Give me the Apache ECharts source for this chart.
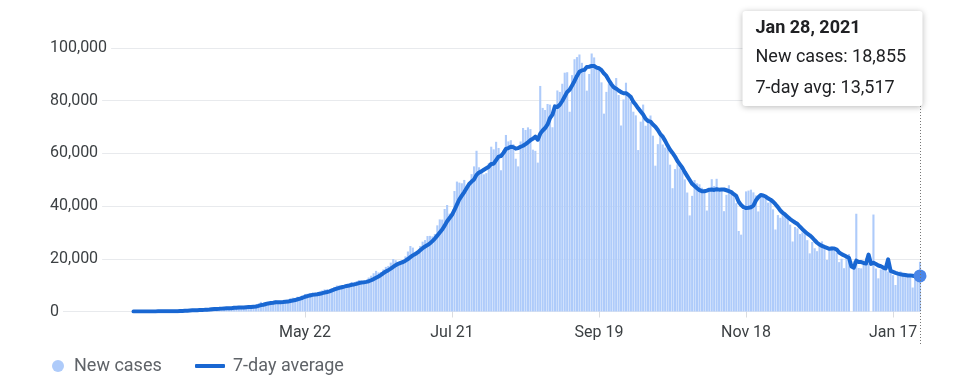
<!DOCTYPE html>
<html><head><meta charset="utf-8">
<script src="https://cdn.jsdelivr.net/npm/echarts@6/dist/echarts.min.js"></script>
<style>html,body{margin:0;padding:0;background:#fff}#c{width:959px;height:386px}</style>
</head><body><div id="c"></div>
<script>
// First day of the series: 13 Mar 2020
const startYear = 2020, startMonth = 2, startDay = 13;
const xTickLabels = ['May 22', 'Jul 21', 'Sep 19', 'Nov 18', 'Jan 17'];
const yMax = 100000, yStep = 20000;
const seriesNames = ['New cases', '7-day average'];

const newCases = [
  // Mar
  14, 8, 10, 20, 11, 23, 36, 53, 68, 89, 69, 103, 37, 121, 70, 160, 100, 227, 146,
  // Apr
  437, 235, 478, 525, 505, 704, 508, 485, 591, 896, 768, 918, 905, 1463, 1118, 826, 1076, 1334, 1553, 1336, 1383, 1409, 1684, 1429, 1990, 1396, 1543, 1902, 1705, 1801,
  // May
  2396, 2564, 2952, 3656, 2958, 3561, 3390, 3320, 3277, 4213, 3604, 3525, 3722, 3967, 3970, 4987, 5242, 4970, 5611, 5609, 6088, 6654, 6767, 6977, 6535, 6387, 6566, 7466, 7964, 8380, 8392,
  // Jun
  8171, 8909, 9304, 9851, 9887, 9971, 9983, 9987, 9985, 11156, 10956, 11458, 11929, 11502, 10667, 10974, 12881, 13586, 14516, 15413, 14821, 14933, 15968, 16922, 17296, 18552, 19906, 19459, 18522, 18653,
  // Jul
  19148, 20903, 22771, 24850, 24248, 22252, 22752, 24879, 26506, 27114, 28637, 28701, 28498, 29429, 32695, 34956, 34884, 38902, 40425, 37148, 37724, 45720, 49310, 48916, 48661, 49931, 47703, 48513, 52123, 55079, 61000,
  // Aug
  54736, 52972, 52050, 52509, 56282, 62538, 61537, 64399, 62064, 53601, 60963, 66999, 64553, 65002, 63490, 57981, 55079, 64531, 69652, 68898, 69878, 69239, 61408, 60975, 56500, 85600, 77266, 76472, 78761, 78512, 69921,
  // Sep
  78357, 83883, 83341, 86432, 90632, 90802, 75809, 89706, 95735, 96551, 97570, 94372, 92071, 83809, 90123, 97894, 96424, 93337, 92605, 86961, 75083, 83347, 86508, 86052, 85362, 88600, 82170, 70589, 80472, 86821,
  // Oct
  81484, 79476, 75829, 74442, 61267, 72049, 78524, 70496, 73272, 74383, 66732, 55342, 63509, 67708, 63371, 62212, 61871, 55722, 46790, 54044, 55839, 54366, 53370, 50129, 45149, 36469, 43893, 49881, 48648, 48268, 46964,
  // Nov
  45231, 38310, 46253, 50209, 47638, 50357, 45674, 45903, 38073, 44281, 47905, 44879, 44878, 41100, 30548, 29164, 38617, 45576, 45882, 46232, 45209, 44059, 37975, 44376, 44489, 43082, 41322, 41810, 38772, 31118,
  // Dec
  36604, 35551, 36595, 36652, 36011, 32981, 26567, 32080, 31522, 29398, 30006, 30254, 27071, 22065, 26382, 24010, 22890, 25152, 26624, 24337, 19556, 23950, 24712, 23068, 22272, 18732, 20021, 16432, 20550, 21822, 0,
  // Jan
  19078, 37100, 16505, 16375, 18088, 20346, 18139, 0, 36800, 16311, 12584, 15968, 16946, 15590, 15158, 15144, 13788, 10064, 13823, 15223, 14545, 14256, 13849, 13203, 9102, 12689, 11666, 18855
];

const avg7 = [
  // Mar
  8, 9, 10, 12, 12, 14, 17, 23, 32, 43, 50, 63, 65, 77, 80, 93, 94, 117, 123,
  // Apr
  180, 196, 255, 307, 365, 433, 485, 491, 542, 602, 637, 696, 724, 861, 951, 985, 1011, 1091, 1182, 1244, 1232, 1274, 1396, 1447, 1541, 1518, 1548, 1622, 1664, 1681,
  // May
  1819, 1901, 2123, 2425, 2576, 2841, 3068, 3200, 3302, 3482, 3475, 3556, 3579, 3661, 3754, 3998, 4145, 4340, 4638, 4908, 5211, 5594, 5849, 6097, 6320, 6431, 6568, 6765, 6952, 7182, 7384,
  // Jun
  7618, 7978, 8369, 8710, 8985, 9212, 9439, 9699, 9853, 10117, 10275, 10499, 10779, 10996, 11093, 11235, 11481, 11857, 12294, 12791, 13265, 13875, 14588, 15166, 15696, 16272, 16914, 17577, 18089, 18473,
  // Jul
  18791, 19306, 19909, 20615, 21299, 21832, 22418, 23236, 24037, 24657, 25198, 25834, 26727, 27681, 28797, 30004, 31114, 32581, 34256, 35491, 36676, 38537, 40588, 42592, 43986, 45344, 46852, 48393, 49308, 50132, 51859,
  // Aug
  52726, 53161, 53782, 54353, 54947, 56012, 56089, 57470, 58768, 58990, 60198, 61729, 62017, 62512, 62382, 61798, 62010, 62519, 62898, 63519, 64216, 65037, 65526, 66369, 65221, 67500, 68695, 69637, 70997, 73441, 74719,
  // Sep
  77841, 77596, 78464, 79887, 81583, 83338, 84179, 85801, 87494, 89381, 90972, 91506, 91688, 92831, 92890, 93199, 93180, 92576, 92323, 91593, 90347, 89379, 87752, 86270, 85131, 84559, 83875, 83233, 82822, 82867,
  // Oct
  82214, 81373, 79549, 78445, 77113, 75910, 74724, 73155, 72268, 72062, 70960, 70114, 68894, 67349, 66331, 64751, 62964, 61391, 60169, 58817, 57121, 55835, 54572, 52894, 51384, 49909, 48459, 47608, 46791, 46062, 45610,
  // Nov
  45622, 45885, 46222, 46269, 46125, 46423, 46239, 46335, 46301, 46019, 45690, 45296, 44513, 43860, 41666, 40394, 39584, 39252, 39395, 39588, 40175, 42106, 43364, 44187, 44032, 43632, 42930, 42445, 41689, 40710,
  // Dec
  39600, 38323, 37396, 36729, 35900, 35073, 34423, 33777, 33201, 32173, 31224, 30401, 29557, 28914, 28100, 27027, 26097, 25403, 24885, 24494, 24136, 23788, 23889, 23914, 23503, 22375, 21759, 21312, 20827, 20414, 17118,
  // Jan
  16662, 19286, 18784, 18776, 18424, 18213, 21600, 18079, 18500, 18008, 17467, 17164, 16678, 16314, 19800, 15386, 15025, 14665, 14359, 14113, 13964, 13835, 13650, 13709, 13571, 13409, 12901, 13517
];

const MONTHS = ['Jan','Feb','Mar','Apr','May','Jun','Jul','Aug','Sep','Oct','Nov','Dec'];
const dates = newCases.map((_, i) => new Date(Date.UTC(startYear, startMonth, startDay + i)));
const categories = dates.map(d => MONTHS[d.getUTCMonth()] + ' ' + d.getUTCDate());
const last = newCases.length - 1;
const lastDate = dates[last];
const tipTitle = MONTHS[lastDate.getUTCMonth()] + ' ' + lastDate.getUTCDate() + ', ' + lastDate.getUTCFullYear();
const fmt = v => v.toLocaleString('en-US');

const FONT = 'Roboto, Arial, sans-serif';
const BAR = '#aecbfa', LINE = '#1967d2', DOT = '#4a86e8';
const showTick = (i, v) => xTickLabels.indexOf(v) !== -1;

const chart = echarts.init(document.getElementById('c'), null, { renderer: 'canvas' });
chart.setOption({
  animation: false,
  backgroundColor: '#fff',
  grid: [
    { left: 50, right: 39, top: 48, height: 263.5 },
    { left: 133.5, right: 39, top: 48, height: 263.5 }
  ],
  xAxis: [
    { gridIndex: 0, type: 'value', min: 0, max: 1, show: false },
    {
      gridIndex: 1, type: 'category', data: categories, boundaryGap: false,
      axisLine: { show: false },
      axisTick: { show: true, interval: showTick, length: 6, lineStyle: { color: '#dadce0' } },
      axisLabel: { interval: showTick, color: '#3c4043', fontSize: 16, fontFamily: FONT, margin: 13.5 },
      splitLine: { show: false }
    }
  ],
  yAxis: [
    {
      gridIndex: 0, type: 'value', min: 0, max: yMax, interval: yStep,
      axisLine: { show: false }, axisTick: { show: false },
      splitLine: { lineStyle: { color: '#e8eaed', width: 1 } },
      axisLabel: {
        inside: true, margin: 0, color: '#3c4043', fontSize: 16, fontFamily: FONT,
        backgroundColor: '#fff', padding: [3, 4, 3, 0],
        formatter: v => fmt(v)
      }
    },
    { gridIndex: 1, type: 'value', min: 0, max: yMax, interval: yStep, show: false, splitLine: { show: false } }
  ],
  legend: [
    {
      left: 52, top: 357, padding: 0, itemWidth: 22, itemHeight: 12,
      data: [{ name: seriesNames[0], icon: 'circle' }],
      textStyle: { color: '#5f6368', fontSize: 18, fontFamily: FONT }
    },
    {
      left: 195, top: 357, padding: 0, itemWidth: 30, itemHeight: 4,
      data: [{ name: seriesNames[1], icon: 'roundRect' }],
      textStyle: { color: '#5f6368', fontSize: 18, fontFamily: FONT, padding: [0, 0, 0, 3] }
    }
  ],
  series: [
    {
      name: seriesNames[0], type: 'bar', xAxisIndex: 1, yAxisIndex: 1,
      data: newCases, barCategoryGap: '14%', itemStyle: { color: BAR }, silent: true
    },
    {
      name: seriesNames[1], type: 'line', xAxisIndex: 1, yAxisIndex: 1,
      data: avg7, showSymbol: false, symbol: 'none',
      lineStyle: { color: LINE, width: 4, cap: 'round', join: 'round' },
      itemStyle: { color: LINE },
      silent: true, z: 3,
      markPoint: {
        silent: true, symbol: 'circle', symbolSize: 13,
        label: { show: false },
        itemStyle: { color: DOT },
        data: [{ coord: [categories[last], avg7[last]] }]
      }
    }
  ]
});

const p = chart.convertToPixel({ xAxisIndex: 1, yAxisIndex: 1 }, [last, avg7[last]]);
const px = Math.round(p[0]) + 0.5;
const boxW = 180, boxRight = px + 2, boxLeft = boxRight - boxW;
chart.setOption({
  graphic: [
    { type: 'line', z: 50, shape: { x1: px, y1: 106, x2: px, y2: 345 },
      style: { stroke: '#777', lineWidth: 1, lineDash: [1, 2] } },
    { type: 'rect', z: 100, shape: { x: boxLeft, y: 11, width: boxW, height: 95, r: 3 },
      style: { fill: '#fff', shadowBlur: 6, shadowColor: 'rgba(0,0,0,0.28)', shadowOffsetY: 1 } },
    { type: 'text', z: 101, x: boxLeft + 13, y: 28.5,
      style: { text: tipTitle, fontSize: 18, fontWeight: 'bold', fontFamily: FONT, fill: '#202124', verticalAlign: 'middle' } },
    { type: 'text', z: 101, x: boxLeft + 13, y: 57.5,
      style: { text: 'New cases: ' + fmt(newCases[last]), fontSize: 18, fontFamily: FONT, fill: '#202124', verticalAlign: 'middle' } },
    { type: 'text', z: 101, x: boxLeft + 13, y: 88.5,
      style: { text: '7-day avg: ' + fmt(avg7[last]), fontSize: 18, fontFamily: FONT, fill: '#202124', verticalAlign: 'middle' } }
  ]
});
</script>
</body></html>
